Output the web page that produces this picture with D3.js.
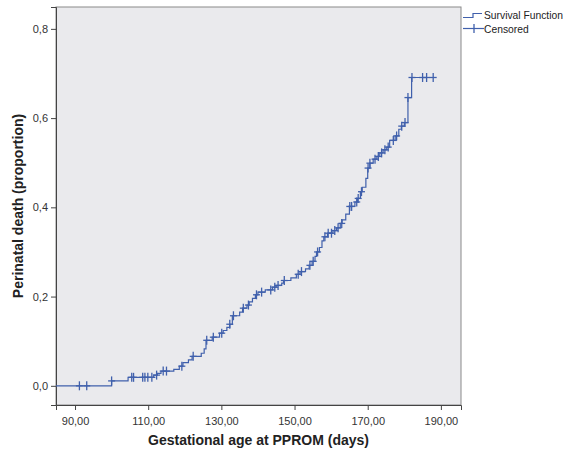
<!DOCTYPE html>
<html>
<head>
<meta charset="utf-8">
<script src="https://cdn.jsdelivr.net/npm/d3@7"></script>
<style>
  body { margin: 0; background: #fff; }
  text { font-family: "Liberation Sans", Arial, sans-serif; }
</style>
</head>
<body>
<div id="chart"></div>
<script>
// survival curve (days, cumulative proportion after the step)
var startDay = 84.8
var eventDays = [100, 104.5, 111.5, 112.5, 113.5, 117, 118.5, 119.5, 121, 122, 124.5, 125.3, 125.8,
  127.5, 129.5, 130.5, 131.5, 132.3, 133, 135, 135.8, 137, 137.6, 138.5, 139.3, 140, 142, 144, 145,
  146.5, 147, 149, 150.5, 151.5, 153, 154, 154.8, 155.6, 156, 156.8, 157.5, 158, 159, 160.5, 161.5,
  162.5, 163, 164, 165, 166.5, 167.2, 168, 168.5, 169.5, 170, 170.6, 171.5, 172.5, 173.3, 174.2,
  175.2, 176, 177.5, 178.5, 179.2, 180, 181, 182]
var eventProp = [0.011, 0.019, 0.024, 0.028, 0.033, 0.037, 0.044, 0.052, 0.058, 0.066, 0.073, 0.083, 0.102,
  0.109, 0.118, 0.124, 0.131, 0.138, 0.157, 0.165, 0.174, 0.181, 0.188, 0.196, 0.204, 0.21, 0.215, 0.221, 0.225,
  0.23, 0.236, 0.242, 0.25, 0.256, 0.262, 0.27, 0.279, 0.29, 0.3, 0.31, 0.325, 0.334, 0.342, 0.348, 0.354,
  0.364, 0.372, 0.385, 0.402, 0.412, 0.42, 0.435, 0.445, 0.465, 0.488, 0.499, 0.508, 0.514, 0.522, 0.529,
  0.535, 0.55, 0.56, 0.575, 0.582, 0.59, 0.646, 0.691]
var endDay = 187.9
var censorDays = [91.2, 93.2, 100, 105.5, 106, 108.5, 109.1, 109.9, 111, 112.3, 114.1, 115, 119.2, 122.3,
  126, 127.8, 130.1, 132.3, 133.3, 136, 137.4, 139.6, 141, 143.5, 144.6, 145.5, 147.2, 151, 151.9, 154.2,
  155.1, 156.3, 158.3, 159.2, 160.1, 161, 161.9, 162.9, 165.1, 165.6, 167, 167.4, 168.3, 170.1, 170.6, 172,
  172.9, 173.8, 174.7, 175.6, 177, 177.9, 179.3, 180.2, 181, 182.1, 185, 186.1, 187.9]
var xTicks = [90, 110, 130, 150, 170, 190]
var yTicks = [0, 0.2, 0.4, 0.6, 0.8]
var legendLabels = ['Survival Function', 'Censored']

var width = 567, height = 452
var margin = {top: 7, right: 106, bottom: 47, left: 56}
var lineColor = '#4060ac'

var svg = d3.select('#chart')
  .append('svg')
    .attr('width', width)
    .attr('height', height)

var x = d3.scaleLinear().domain([84.8, 195.5]).range([margin.left, width - margin.right])
var y = d3.scaleLinear().domain([-0.043, 0.849]).range([height - margin.bottom, margin.top])

var comma = d3.formatLocale({decimal: ',', thousands: '.', grouping: [3], currency: ['', '']})

// plot background
svg.append('rect')
  .attr('x', margin.left)
  .attr('y', margin.top)
  .attr('width', width - margin.right - margin.left)
  .attr('height', height - margin.bottom - margin.top)
  .attr('fill', '#eaeaed')
  .attr('stroke', '#8a8a8a')
  .attr('stroke-width', 1)

// axes
var xAxis = svg.append('g')
  .attr('transform', 'translate(0,' + (height - margin.bottom) + ')')
  .call(d3.axisBottom(x).tickValues(xTicks).tickSize(5).tickFormat(comma.format('.2f')))
var yAxis = svg.append('g')
  .attr('transform', 'translate(' + margin.left + ',0)')
  .call(d3.axisLeft(y).tickValues(yTicks).tickSize(5).tickFormat(comma.format('.1f')))

;[xAxis, yAxis].forEach(function(g) {
  g.select('.domain').attr('stroke', '#444')
  g.selectAll('.tick line').attr('stroke', '#444')
  g.selectAll('.tick text')
    .attr('fill', '#333')
    .style('font-size', '11px')
})
xAxis.selectAll('.tick text').attr('dy', '1.05em')

// step line
var steps = [{d: startDay, p: 0}]
eventDays.forEach(function(d, i) { steps.push({d: d, p: eventProp[i]}) })
var pts = steps.slice()
pts.push({d: endDay, p: eventProp[eventProp.length - 1]})

var line = d3.line()
  .curve(d3.curveStepAfter)
  .x(function(d) { return x(d.d) })
  .y(function(d) { return y(d.p) })

svg.append('path')
  .datum(pts)
  .attr('d', line)
  .attr('fill', 'none')
  .attr('stroke', lineColor)
  .attr('stroke-width', 1.2)

// censored marks at the curve value
function valueAt(day) {
  var i = d3.bisectRight(steps.map(function(s) { return s.d }), day)
  return steps[Math.max(0, i - 1)].p
}
var cens = svg.append('g')
  .selectAll('g')
  .data(censorDays)
  .enter().append('g')
    .attr('transform', function(d) { return 'translate(' + x(d) + ',' + y(valueAt(d)) + ')' })
cens.append('line').attr('x1', -3.5).attr('x2', 3.5).attr('y1', 0).attr('y2', 0)
cens.append('line').attr('x1', 0).attr('x2', 0).attr('y1', -4.5).attr('y2', 4.5)
cens.selectAll('line').attr('stroke', lineColor).attr('stroke-width', 1.3)

// axis titles
svg.append('text')
  .attr('x', (margin.left + width - margin.right) / 2)
  .attr('y', 445)
  .attr('text-anchor', 'middle')
  .style('font-size', '14px')
  .style('font-weight', 'bold')
  .attr('fill', '#222')
  .text('Gestational age at PPROM (days)')

svg.append('text')
  .attr('transform', 'rotate(-90)')
  .attr('x', -(margin.top + height - margin.bottom) / 2)
  .attr('y', 23)
  .attr('text-anchor', 'middle')
  .style('font-size', '14px')
  .style('font-weight', 'bold')
  .attr('fill', '#222')
  .text('Perinatal death (proportion)')

// legend
var leg = svg.append('g').attr('transform', 'translate(463,0)')
leg.append('path')
  .attr('d', 'M0,17.5 H10 V13.5 H19')
  .attr('fill', 'none')
  .attr('stroke', lineColor)
  .attr('stroke-width', 1.2)
leg.append('line').attr('x1', 0).attr('x2', 21).attr('y1', 28.5).attr('y2', 28.5)
  .attr('stroke', lineColor).attr('stroke-width', 1.2)
leg.append('line').attr('x1', 11).attr('x2', 11).attr('y1', 24).attr('y2', 33)
  .attr('stroke', lineColor).attr('stroke-width', 1.3)
leg.selectAll('text.lab')
  .data(legendLabels)
  .enter().append('text')
    .attr('class', 'lab')
    .attr('x', 21)
    .attr('y', function(d, i) { return 19 + i * 14 })
    .style('font-size', '10.3px')
    .attr('fill', '#222')
    .text(function(d) { return d })
</script>
</body>
</html>
